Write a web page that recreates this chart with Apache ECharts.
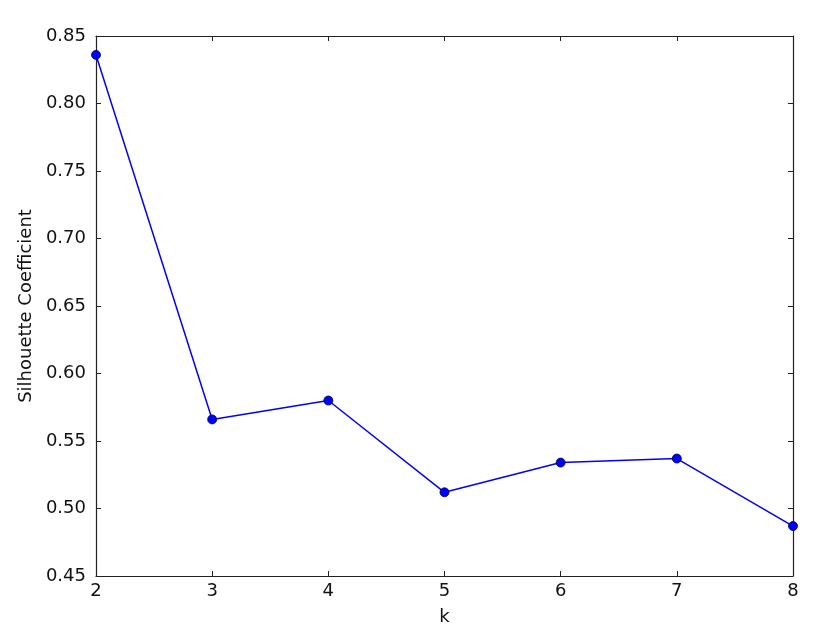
<!DOCTYPE html>
<html><head><meta charset="utf-8">
<script src="https://cdn.jsdelivr.net/npm/echarts@6/dist/echarts.min.js"></script>
<style>html,body{margin:0;padding:0;background:#fff}#c{width:821px;height:631px}</style>
</head><body><div id="c"></div>
<script>
const kValues = [2, 3, 4, 5, 6, 7, 8];
const silhouette = [0.836, 0.566, 0.580, 0.512, 0.534, 0.537, 0.487];
const xTicks = [2, 3, 4, 5, 6, 7, 8];
const yTicks = [0.45, 0.50, 0.55, 0.60, 0.65, 0.70, 0.75, 0.80, 0.85];

const font = 'DejaVu Sans';
const chart = echarts.init(document.getElementById('c'), null, {renderer: 'canvas'});
const axisLine = {show: true, lineStyle: {color: '#222', width: 1.2}};
const tick = {show: true, inside: true, length: 5, lineStyle: {color: '#222', width: 1}};
chart.setOption({
  animation: false,
  grid: {left: 96, top: 36, right: 28, bottom: 55, containLabel: false},
  xAxis: [{
    type: 'value', min: xTicks[0], max: xTicks[xTicks.length - 1], interval: 1,
    name: 'k', nameLocation: 'middle', nameGap: 32,
    nameTextStyle: {fontFamily: font, fontSize: 18, color: '#111'},
    axisLine: axisLine, axisTick: tick, splitLine: {show: false},
    axisLabel: {fontFamily: font, fontSize: 18, color: '#111', margin: 6}
  }, {
    type: 'value', position: 'top', min: xTicks[0], max: xTicks[xTicks.length - 1], interval: 1,
    axisLine: axisLine, axisTick: tick, splitLine: {show: false}, axisLabel: {show: false}
  }],
  yAxis: [{
    type: 'value', min: yTicks[0], max: yTicks[yTicks.length - 1], interval: 0.05,
    name: 'Silhouette Coefficient', nameLocation: 'middle', nameGap: 59, nameRotate: 90,
    nameTextStyle: {fontFamily: font, fontSize: 18, color: '#111'},
    axisLine: axisLine, axisTick: tick, splitLine: {show: false},
    axisLabel: {fontFamily: font, fontSize: 18, color: '#111', margin: 10,
      formatter: v => v.toFixed(2)}
  }, {
    type: 'value', position: 'right', min: yTicks[0], max: yTicks[yTicks.length - 1], interval: 0.05,
    axisLine: axisLine, axisTick: tick, splitLine: {show: false}, axisLabel: {show: false}
  }],
  series: [{
    type: 'line',
    data: kValues.map((k, i) => [k, silhouette[i]]),
    symbol: 'circle', symbolSize: 9,
    lineStyle: {color: '#0000ff', width: 1.5},
    itemStyle: {color: '#0000ff', borderColor: '#000033', borderWidth: 0.8},
    clip: false
  }]
});
</script></body></html>
